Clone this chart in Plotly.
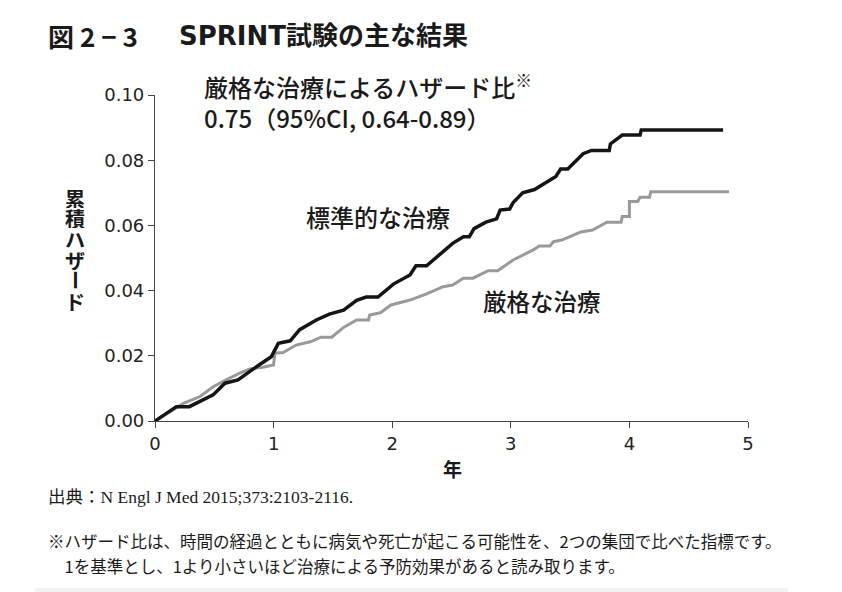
import plotly.graph_objects as go

# 標準的な治療 (black)
std_years = [0, 0.18, 0.29, 0.49, 0.59, 0.70, 0.83, 0.98, 1.04, 1.14, 1.22, 1.36, 1.47,
             1.59, 1.70, 1.78, 1.88, 2.01, 2.15, 2.20, 2.29, 2.51, 2.60, 2.65, 2.69,
             2.79, 2.88, 2.91, 2.99, 3.02, 3.10, 3.20, 3.38, 3.42, 3.48, 3.61, 3.68,
             3.83, 3.84, 3.88, 3.94, 4.09, 4.10, 4.79]
std_hazard = [0, 0.0044, 0.0044, 0.008, 0.0116, 0.0126, 0.016, 0.0197, 0.0238, 0.0246,
              0.028, 0.031, 0.0328, 0.034, 0.037, 0.038, 0.038, 0.042, 0.0448, 0.0476,
              0.0476, 0.0545, 0.0565, 0.0565, 0.059, 0.061, 0.062, 0.0647, 0.065, 0.067,
              0.070, 0.071, 0.075, 0.0773, 0.0773, 0.082, 0.083, 0.083, 0.085, 0.086,
              0.0877, 0.0877, 0.0893, 0.0893]

# 厳格な治療 (grey)
int_years = [0, 0.24, 0.38, 0.49, 0.60, 0.72, 0.80, 0.91, 1.00, 1.01, 1.08, 1.19, 1.31,
             1.40, 1.49, 1.59, 1.70, 1.80, 1.81, 1.90, 1.99, 2.15, 2.29, 2.43, 2.51,
             2.60, 2.68, 2.81, 2.89, 3.02, 3.19, 3.24, 3.33, 3.36, 3.43, 3.52, 3.59,
             3.69, 3.81, 3.93, 3.94, 4.00, 4.00, 4.07, 4.09, 4.17, 4.18, 4.84]
int_hazard = [0, 0.0054, 0.0075, 0.0105, 0.0126, 0.0148, 0.016, 0.0165, 0.0172, 0.0208,
              0.021, 0.0233, 0.0243, 0.0257, 0.0257, 0.0287, 0.031, 0.031, 0.0325, 0.0332,
              0.0356, 0.0371, 0.039, 0.0412, 0.0417, 0.0438, 0.0438, 0.0461, 0.0461,
              0.0494, 0.0525, 0.0537, 0.0537, 0.055, 0.0555, 0.057, 0.058, 0.0586, 0.061,
              0.061, 0.0627, 0.0627, 0.0673, 0.0673, 0.0686, 0.0686, 0.0703, 0.0703]

x_ticks = [0, 1, 2, 3, 4, 5]
y_ticks = [0, 0.02, 0.04, 0.06, 0.08, 0.10]
y_title_chars = ["累", "積", "ハ", "ザ", "ー", "ド"]

JP = "Noto Sans CJK JP"
OFF = 8  # page body margin
W, H = 834, 584
L, T = 147, 87
PW, PH = 593, 326
R, B = W - L - PW, H - T - PH

fig = go.Figure()
fig.add_trace(go.Scatter(x=int_years, y=int_hazard, mode="lines",
                         line=dict(color="#999999", width=3), name="厳格な治療"))
fig.add_trace(go.Scatter(x=std_years, y=std_hazard, mode="lines",
                         line=dict(color="#151515", width=3.5), name="標準的な治療"))

axis_common = dict(showgrid=False, zeroline=False, showline=True, linecolor="#444444",
                   linewidth=1.2, ticks="outside", ticklen=6, tickcolor="#444444",
                   tickfont=dict(family="DejaVu Sans", size=18, color="#222222"))
fig.update_xaxes(range=[0, 5], tickvals=x_ticks, ticktext=[str(v) for v in x_ticks],
                 **axis_common)
fig.update_yaxes(range=[0, 0.10], tickvals=y_ticks,
                 ticktext=[f"{v:.2f}" for v in y_ticks], **axis_common)


def px(xp, yp):
    """screen pixel -> paper coords (plot area)"""
    return (xp - OFF - L) / PW, 1 - (yp - OFF - T) / PH


def note(text, xp, yp, size, weight="normal", family=JP, xanchor="left", yanchor="middle",
         align="left", **kw):
    x, y = px(xp, yp)
    fig.add_annotation(text=text, x=x, y=y, xref="paper", yref="paper",
                       xanchor=xanchor, yanchor=yanchor, align=align, showarrow=False,
                       font=dict(family=family, size=size, color="#1a1a1a", weight=weight),
                       **kw)


note("図 2 − 3", 46, 36, 26, weight="bold")
note("SPRINT試験の主な結果", 177, 36, 26, weight="bold",
     family="DejaVu Sans, Noto Sans CJK JP")
note("厳格な治療によるハザード比<sup>※</sup><br>0.75（95%CI, 0.64-0.89）", 202, 101, 24,
     weight=500)
note("標準的な治療", 304, 216, 24, weight=500)
note("厳格な治療", 481, 301, 23.5, weight=500)
for i, ch in enumerate(y_title_chars):
    note(ch, 75, 198 + i * 20.5, 20, weight="bold", xanchor="center", align="center",
         height=20, textangle=90 if ch == "ー" else 0)
note("年", 452, 468, 19, weight="bold", xanchor="center")
note("出典：N Engl J Med 2015;373:2103-2116.", 46, 497, 17.5,
     family="Liberation Serif, Noto Sans CJK JP")
note("※ハザード比は、時間の経過とともに病気や死亡が起こる可能性を、2つの集団で比べた指標です。",
     46, 541, 16.5)
note("　1を基準とし、1より小さいほど治療による予防効果があると読み取ります。", 46, 566, 16.5)

x0, y0 = px(35, 592)
x1, y1 = px(788, 588)
fig.add_shape(type="rect", xref="paper", yref="paper", x0=x0, x1=x1, y0=y0, y1=y1,
              fillcolor="#f2f2f2", line=dict(width=0))

fig.update_layout(width=W, height=H, margin=dict(l=L, r=R, t=T, b=B),
                  paper_bgcolor="white", plot_bgcolor="white", showlegend=False)

fig.write_html("out.html")
